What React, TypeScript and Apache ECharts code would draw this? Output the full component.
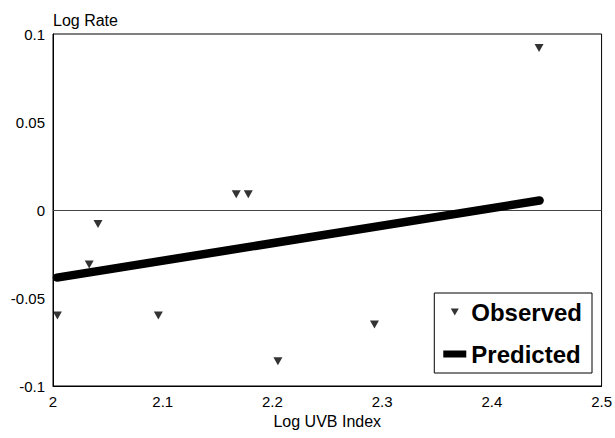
import React, { useEffect, useRef } from "react";
import * as echarts from "echarts";

const observedX = [2.004, 2.033, 2.041, 2.096, 2.167, 2.178, 2.205, 2.293, 2.443];
const observedY = [-0.060, -0.031, -0.008, -0.060, 0.009, 0.009, -0.086, -0.065, 0.092];
const predictedX = [2.0036, 2.4435];
const predictedY = [-0.0384, 0.0054];
const xTicks = { min: 2, max: 2.5, interval: 0.1 };
const yTicks = { min: -0.1, max: 0.1, interval: 0.05 };

const FONT = "'Liberation Sans', Arial, Helvetica, sans-serif";
const TRI = "path://M0,0L8,0L4,7Z";

export default function App() {
  const ref = useRef<HTMLDivElement>(null);
  useEffect(() => {
    if (!ref.current) return;
    const chart = echarts.init(ref.current, null, { renderer: "svg" });
    chart.setOption({
      animation: false,
      backgroundColor: "#fff",
      textStyle: { fontFamily: FONT, color: "#000" },
      grid: {
        left: 53,
        right: 13,
        top: 34,
        bottom: 52,
        containLabel: false,
        show: true,
        borderColor: "#000",
        borderWidth: 1,
        backgroundColor: "transparent",
      },
      legend: {
        orient: "vertical",
        right: 23,
        top: 293,
        borderColor: "#000",
        borderWidth: 1,
        borderRadius: 0,
        padding: [7, 10, 7, 9],
        itemGap: 18,
        itemWidth: 23,
        itemHeight: 7,
        selectedMode: false,
        textStyle: { fontSize: 24, fontWeight: "bold", fontFamily: FONT, color: "#000" },
        data: [
          { name: "Observed", icon: TRI },
          { name: "Predicted", icon: "rect" },
        ],
      },
      xAxis: {
        type: "value",
        min: xTicks.min,
        max: xTicks.max,
        interval: xTicks.interval,
        name: "Log UVB Index",
        nameLocation: "middle",
        nameGap: 26,
        nameTextStyle: { fontSize: 16, fontFamily: FONT, color: "#000" },
        axisLine: { show: true, onZero: false, lineStyle: { color: "#000", width: 1 } },
        axisTick: { show: false },
        splitLine: { show: false },
        axisLabel: { fontSize: 15, fontFamily: FONT, color: "#000", margin: 8 },
      },
      yAxis: {
        type: "value",
        min: yTicks.min,
        max: yTicks.max,
        interval: yTicks.interval,
        name: "Log Rate",
        nameLocation: "end",
        nameGap: 14,
        nameTextStyle: { fontSize: 16, fontFamily: FONT, color: "#000", align: "left", verticalAlign: "middle" },
        axisLine: { show: true, lineStyle: { color: "#000", width: 1 } },
        axisTick: { show: false },
        splitLine: { show: false },
        axisLabel: { fontSize: 15, fontFamily: FONT, color: "#000", margin: 8 },
      },
      series: [
        {
          name: "Predicted",
          type: "line",
          data: predictedX.map((x, i) => [x, predictedY[i]]),
          symbol: "none",
          color: "#000",
          lineStyle: { color: "#000", width: 8.5, cap: "round" },
          itemStyle: { color: "#000" },
          z: 3,
          markLine: {
            silent: true,
            symbol: ["none", "none"],
            label: { show: false },
            lineStyle: { color: "#444", width: 1, type: "solid" },
            data: [{ yAxis: 0 }],
            z: 1,
          },
        },
        {
          name: "Observed",
          type: "scatter",
          data: observedX.map((x, i) => [x, observedY[i]]),
          symbol: TRI,
          symbolSize: [9, 8],
          itemStyle: { color: "#000" },
          z: 4,
        },
      ],
    });
    return () => chart.dispose();
  }, []);
  return (
    <div
      ref={ref}
      style={{ position: "fixed", left: 0, top: 0, width: 615, height: 438, background: "#fff" }}
    />
  );
}
